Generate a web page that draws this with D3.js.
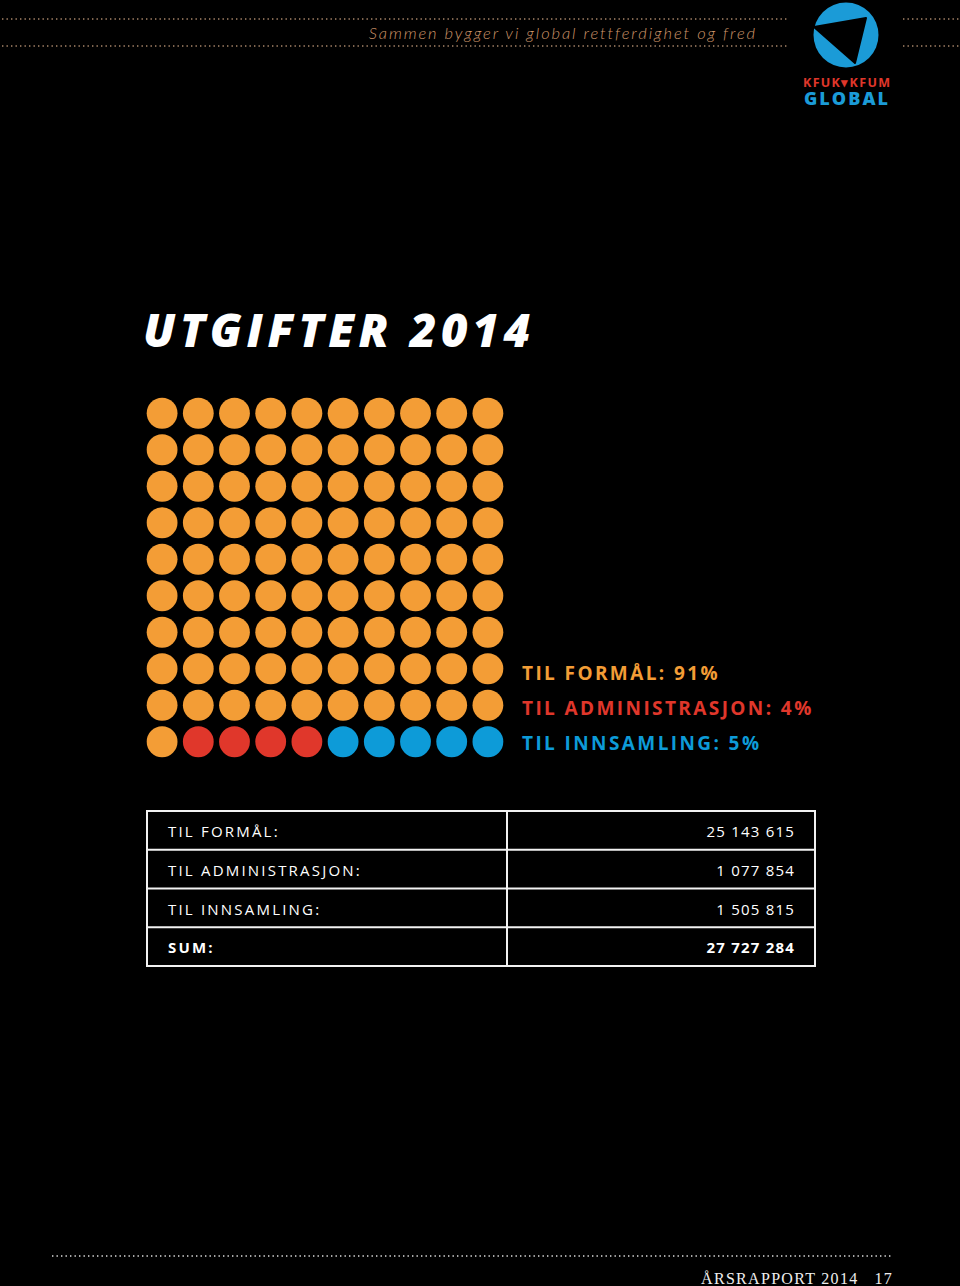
<!DOCTYPE html>
<html><head><meta charset="utf-8">
<script src="https://cdn.jsdelivr.net/npm/d3@7"></script>
<style>html,body{margin:0;padding:0;background:#000;}svg{display:block;}</style>
</head><body>
<script>
const categories = ["TIL FORMÅL", "TIL ADMINISTRASJON", "TIL INNSAMLING"];
const percents = [91, 4, 5];
const amounts = ["25 143 615", "1 077 854", "1 505 815"];
const sumLabel = "SUM:";
const sumAmount = "27 727 284";
const colors = ["#f39d36", "#e0372b", "#0d9bd8"];

const W = 960, H = 1286;
const svg = d3.select("body").append("svg").attr("width", W).attr("height", H);
svg.append("rect").attr("width", W).attr("height", H).attr("fill", "#000");

// header dotted lines
const dotCol = "#a9866a";
[19, 46].forEach(y => {
  svg.append("line").attr("x1", 2).attr("x2", 788).attr("y1", y).attr("y2", y)
    .attr("stroke", dotCol).attr("stroke-width", 1.4).attr("stroke-dasharray", "1.4,3.1");
  svg.append("line").attr("x1", 903).attr("x2", 960).attr("y1", y).attr("y2", y)
    .attr("stroke", dotCol).attr("stroke-width", 1.4).attr("stroke-dasharray", "1.4,3.1");
});
svg.append("text").attr("x", 757).attr("y", 39).attr("text-anchor", "end")
  .attr("font-family", "Lato, 'Open Sans', sans-serif").attr("font-style", "italic").attr("font-weight", 300)
  .attr("font-size", 16.5).attr("letter-spacing", 1.9).attr("fill", "#cc9468")
  .text("Sammen bygger vi global rettferdighet og fred");

// logo
svg.append("circle").attr("cx", 846).attr("cy", 35).attr("r", 32.5).attr("fill", "#1b9bd7");
svg.append("path").attr("d", "M814,27 L866,18 L855,63 Z").attr("fill", "#000").attr("stroke", "#000").attr("stroke-linejoin", "round").attr("stroke-width", 2);
svg.append("text").attr("x", 803).attr("y", 87).attr("font-family", "'Open Sans', sans-serif").attr("font-weight", 700)
  .attr("font-size", 12.5).attr("fill", "#e0372b").attr("textLength", 87).text("KFUK\u25BEKFUM");
svg.append("text").attr("x", 804).attr("y", 105).attr("font-family", "'Open Sans', sans-serif").attr("font-weight", 800)
  .attr("font-size", 18).attr("fill", "#1b9bd7").attr("textLength", 84).text("GLOBAL");

// title
svg.append("text").attr("x", 143).attr("y", 347)
  .attr("font-family", "'Open Sans', sans-serif").attr("font-style", "italic").attr("font-weight", 800)
  .attr("font-size", 46).attr("letter-spacing", 4.6).attr("fill", "#fff").text("UTGIFTER 2014");

// waffle
const cells = [];
percents.forEach((p, i) => { for (let k = 0; k < p; k++) cells.push(i); });
const idx = d3.range(10);
const xs = d3.scaleBand().domain(idx).range([144, 506]).paddingInner(0.14).paddingOuter(0.07);
const ys = d3.scaleBand().domain(idx).range([395, 760]).paddingInner(0.14).paddingOuter(0.07);
svg.append("g").selectAll("circle").data(cells).join("circle")
  .attr("cx", (d, i) => xs(i % 10) + xs.bandwidth() / 2)
  .attr("cy", (d, i) => ys(Math.floor(i / 10)) + ys.bandwidth() / 2)
  .attr("r", 15.4)
  .attr("fill", d => colors[d]);

// legend
svg.append("g").selectAll("text").data(categories).join("text")
  .attr("x", 522).attr("y", (d, i) => 680 + i * 35)
  .attr("font-family", "'Open Sans', sans-serif").attr("font-weight", 700)
  .attr("font-size", 19).attr("letter-spacing", 2.4)
  .attr("fill", (d, i) => colors[i])
  .text((d, i) => `${d}: ${percents[i]}%`);

// table
const rows = categories.map((c, i) => ({label: c + ":", value: amounts[i], bold: false}))
  .concat([{label: sumLabel, value: sumAmount, bold: true}]);
const tx0 = 147, tx1 = 815, tmid = 507, ty0 = 811, ty1 = 966;
const ry = d3.scaleBand().domain(d3.range(rows.length)).range([ty0, ty1]);
const tg = svg.append("g");
tg.append("rect").attr("x", tx0).attr("y", ty0).attr("width", tx1 - tx0).attr("height", ty1 - ty0)
  .attr("fill", "none").attr("stroke", "#f2f2f2").attr("stroke-width", 2);
tg.append("line").attr("x1", tmid).attr("x2", tmid).attr("y1", ty0).attr("y2", ty1).attr("stroke", "#f2f2f2").attr("stroke-width", 2);
tg.selectAll("line.r").data(d3.range(1, rows.length)).join("line").attr("class", "r")
  .attr("x1", tx0).attr("x2", tx1).attr("y1", d => ry(d)).attr("y2", d => ry(d))
  .attr("stroke", "#f2f2f2").attr("stroke-width", 2);
tg.selectAll("text.l").data(rows).join("text").attr("class", "l")
  .attr("x", 168).attr("y", (d, i) => ry(i) + 26)
  .attr("font-family", "'Open Sans', sans-serif").attr("font-weight", d => d.bold ? 700 : 400)
  .attr("font-size", 15).attr("letter-spacing", 2.2).attr("fill", "#fff").text(d => d.label);
tg.selectAll("text.v").data(rows).join("text").attr("class", "v")
  .attr("x", 795).attr("y", (d, i) => ry(i) + 26).attr("text-anchor", "end")
  .attr("font-family", "'Open Sans', sans-serif").attr("font-weight", d => d.bold ? 700 : 400)
  .attr("font-size", 15).attr("letter-spacing", 1.2).attr("fill", "#fff").text(d => d.value);

// footer
svg.append("line").attr("x1", 52).attr("x2", 893).attr("y1", 1256).attr("y2", 1256)
  .attr("stroke", "#ddd").attr("stroke-width", 1.4).attr("stroke-dasharray", "1.4,3.1");
svg.append("text").attr("x", 893).attr("y", 1284).attr("text-anchor", "end")
  .attr("font-family", "'Liberation Serif', serif").attr("font-size", 16).attr("letter-spacing", 1.3)
  .attr("fill", "#eee").attr("xml:space", "preserve").text("ÅRSRAPPORT 2014   17");
</script>
</body></html>
